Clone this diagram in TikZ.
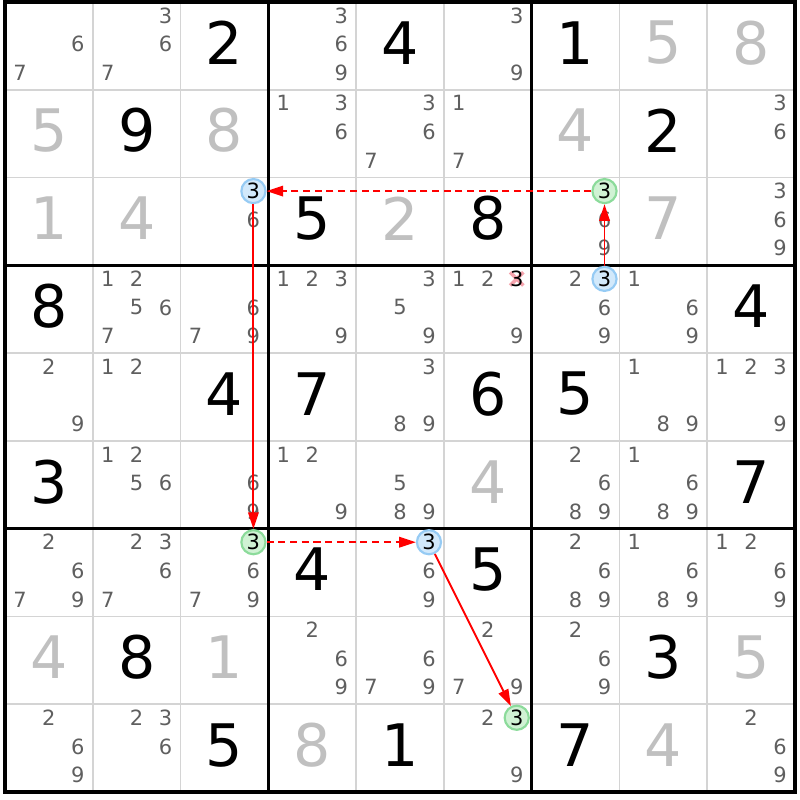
\documentclass[tikz,border=0pt]{standalone}
\usepackage{fontspec}
\setmainfont{DejaVu Sans}
\usetikzlibrary{arrows.meta}

\definecolor{solvedgray}{HTML}{C0C0C0}
\definecolor{candgray}{HTML}{5F5F5F}
\definecolor{gridgray}{HTML}{D4D4D4}
\definecolor{onfill}{HTML}{D2E9FB}
\definecolor{ondraw}{HTML}{96CBF4}
\definecolor{offfill}{HTML}{D0F2D4}
\definecolor{offdraw}{HTML}{8CDB9B}
\definecolor{crosspink}{HTML}{F5A3AD}

\begin{document}
\begin{tikzpicture}[
  given/.style={font=\fontsize{19}{19}\selectfont, text=black, inner sep=0pt},
  solved/.style={given, text=solvedgray},
  cand/.style={font=\fontsize{6.8}{7}\selectfont, text=candgray, inner sep=0pt},
  onnode/.style={circle, cand, text=black, fill=onfill, draw=ondraw, line width=0.7pt, minimum size=0.275cm},
  offnode/.style={onnode, fill=offfill, draw=offdraw},
  link/.style={red, line width=0.6pt, -{Triangle[length=1.9mm,width=1.2mm]}},
  weak/.style={dash pattern=on 2.3pt off 1.5pt}
]
  \useasboundingbox (-0.057,-0.091) rectangle (9.057,9.023);

  % grid
  \foreach \i in {1,2,4,5,7,8} {
    \draw[gridgray, line width=0.6pt] (\i,0) -- (\i,9);
    \draw[gridgray, line width=0.6pt] (0,\i) -- (9,\i);
  }
  \foreach \i in {3,6} {
    \draw[line width=1.1pt] (\i,0) -- (\i,9);
    \draw[line width=1.1pt] (0,\i) -- (9,\i);
  }
  \draw[line width=1.1pt] (0,0) rectangle (9,9);

  % givens and solved cells
  \foreach \r/\c/\d in {1/3/2, 1/5/4, 1/7/1, 2/2/9, 2/8/2, 3/4/5, 3/6/8, 4/1/8, 4/9/4,
                        5/3/4, 5/4/7, 5/6/6, 5/7/5, 6/1/3, 6/9/7, 7/4/4, 7/6/5, 8/2/8,
                        8/8/3, 9/3/5, 9/5/1, 9/7/7}
    \node[given] (v\r\c) at ({\c-0.5},{9.535-\r}) {\d};
  \foreach \r/\c/\d in {1/8/5, 1/9/8, 2/1/5, 2/3/8, 2/7/4, 3/1/1, 3/2/4, 3/5/2, 3/8/7,
                        6/6/4, 8/1/4, 8/3/1, 8/9/5, 9/4/8, 9/8/4}
    \node[solved] (v\r\c) at ({\c-0.5},{9.535-\r}) {\d};

  % candidates
  \foreach \r/\c/\ds in {1/1/{6,7}, 1/2/{3,6,7}, 1/4/{3,6,9}, 1/6/{3,9},
                         2/4/{1,3,6}, 2/5/{3,6,7}, 2/6/{1,7}, 2/9/{3,6},
                         3/3/{6}, 3/7/{6,9}, 3/9/{3,6,9},
                         4/2/{1,2,5,6,7}, 4/3/{6,7,9}, 4/4/{1,2,3,9}, 4/5/{3,5,9},
                         4/6/{1,2,9}, 4/7/{2,6,9}, 4/8/{1,6,9},
                         5/1/{2,9}, 5/2/{1,2}, 5/5/{3,8,9}, 5/8/{1,8,9}, 5/9/{1,2,3,9},
                         6/2/{1,2,5,6}, 6/3/{6,9}, 6/4/{1,2,9}, 6/5/{5,8,9},
                         6/7/{2,6,8,9}, 6/8/{1,6,8,9},
                         7/1/{2,6,7,9}, 7/2/{2,3,6,7}, 7/3/{6,7,9}, 7/5/{6,9},
                         7/7/{2,6,8,9}, 7/8/{1,6,8,9}, 7/9/{1,2,6,9},
                         8/4/{2,6,9}, 8/5/{6,7,9}, 8/6/{2,7,9}, 8/7/{2,6,9},
                         9/1/{2,6,9}, 9/2/{2,3,6}, 9/6/{2,9}, 9/9/{2,6,9}}
    \foreach \d in \ds
      \node[cand] (k\r\c\d) at ({\c-0.5+(mod(\d-1,3)-1)*0.33},{9.52-\r-(int((\d-1)/3)-1)*0.326}) {\d};

  % eliminated candidate
  \coordinate (x46) at (5.83,5.846);
  \draw[crosspink, line width=1.1pt] ([shift={(-0.075,-0.075)}]x46) -- ([shift={(0.075,0.075)}]x46);
  \draw[crosspink, line width=1.1pt] ([shift={(-0.075,0.075)}]x46) -- ([shift={(0.075,-0.075)}]x46);
  \node[cand, text=black] (k463) at (x46) {3};

  % chain
  \node[onnode] (on33) at (2.83,6.846) {3};
  \node[offnode] (off37) at (6.83,6.846) {3};
  \node[onnode] (on47) at (6.83,5.846) {3};
  \node[offnode] (off73) at (2.83,2.846) {3};
  \node[onnode] (on75) at (4.83,2.846) {3};
  \node[offnode] (off96) at (5.83,0.846) {3};

  \draw[link] (on47) -- (off37);
  \draw[link, weak] (off37) -- (on33);
  \draw[link] (on33) -- (off73);
  \draw[link, weak] (off73) -- (on75);
  \draw[link] (on75) -- (off96);
\end{tikzpicture}
\end{document}
